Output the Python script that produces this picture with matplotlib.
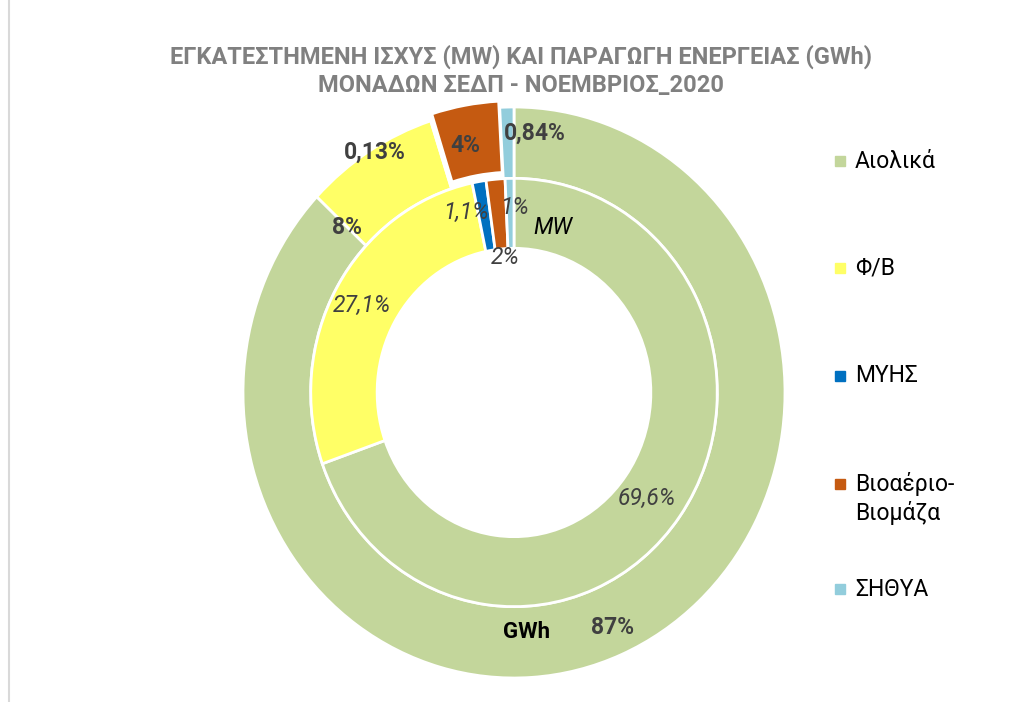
import matplotlib.pyplot as plt
from matplotlib.patches import Rectangle
from matplotlib.lines import Line2D

W, H = 1014, 702

categories = ['Αιολικά', 'Φ/Β', 'ΜΥΗΣ', 'Βιοαέριο-\nΒιομάζα', 'ΣΗΘΥΑ']
colors = ['#C3D69B', '#FFFF66', '#0070C0', '#C55A11', '#92CDDC']

# outer ring: energy production (GWh), inner ring: installed capacity (MW)
gwh_share = [87.0, 8.0, 0.13, 4.0, 0.84]
mw_share = [69.6, 27.1, 1.1, 1.5, 0.7]
gwh_labels = ['87%', '8%', '0,13%', '4%', '0,84%']
mw_labels = ['69,6%', '27,1%', '1,1%', '2%', '1%']

title = 'ΕΓΚΑΤΕΣΤΗΜΕΝΗ ΙΣΧΥΣ (MW) ΚΑΙ ΠΑΡΑΓΩΓΗ ΕΝΕΡΓΕΙΑΣ (GWh)\nΜΟΝΑΔΩΝ ΣΕΔΠ - ΝΟΕΜΒΡΙΟΣ_2020'

# label positions in pixels (Excel put them by hand, more or less)
gwh_pos = [(613, 628), (347, 227), (375, 152), (465, 146), (535, 133)]
mw_pos = [(647, 498), (362, 305), (466, 212), (505, 258), (515, 208)]
legend_y = [161, 268, 376, 484, 589]

plt.rcParams['font.family'] = ['Roboto', 'DejaVu Sans']


def fx(x):
    return x / W


def fy(y):
    return 1 - y / H


fig = plt.figure(figsize=(W / 100, H / 100), dpi=100)
ax = fig.add_axes([fx(243), fy(678), 542 / W, 571 / H])

ax.pie(gwh_share, radius=1.0, colors=colors, startangle=90, counterclock=False,
       explode=[0, 0, 0, 0.022, 0], normalize=True,
       wedgeprops=dict(width=0.25, edgecolor='white', linewidth=2))
ax.pie(mw_share, radius=0.75, colors=colors, startangle=90, counterclock=False,
       normalize=True, wedgeprops=dict(width=0.245, edgecolor='white', linewidth=2))
ax.set_aspect('auto')
ax.set_xlim(-1, 1)
ax.set_ylim(-1, 1)
ax.axis('off')

for lab, (x, y) in zip(gwh_labels, gwh_pos):
    fig.text(fx(x), fy(y), lab, ha='center', va='center', fontsize=16.5,
             fontweight='bold', color='#404040')
for lab, (x, y) in zip(mw_labels, mw_pos):
    fig.text(fx(x), fy(y), lab, ha='center', va='center', fontsize=16.5,
             fontstyle='italic', color='#404040')

fig.text(fx(553), fy(228), 'MW', ha='center', va='center', fontsize=16.5,
         fontstyle='italic', color='black')
fig.text(fx(527), fy(632), 'GWh', ha='center', va='center', fontsize=16,
         fontweight='bold', color='black')

fig.text(fx(521), fy(71), title, ha='center', va='center', fontsize=17,
         fontweight='bold', color='#808080', linespacing=1.3)

# legend drawn by hand to follow Excel's uneven spacing
for name, col, y in zip(categories, colors, legend_y):
    fig.patches.append(Rectangle((fx(835), fy(y + 5)), 10 / W, 10 / H, color=col,
                                 transform=fig.transFigure, figure=fig))
    for k, line in enumerate(name.split('\n')):
        fig.text(fx(855), fy(y + 29 * k), line, ha='left', va='center',
                 fontsize=16.5, color='black')

fig.lines.append(Line2D([fx(9), fx(9)], [0, 1], color='#d9d9d9', lw=1.5,
                        transform=fig.transFigure, figure=fig))

fig.savefig('out.png', dpi=100, facecolor='white')
